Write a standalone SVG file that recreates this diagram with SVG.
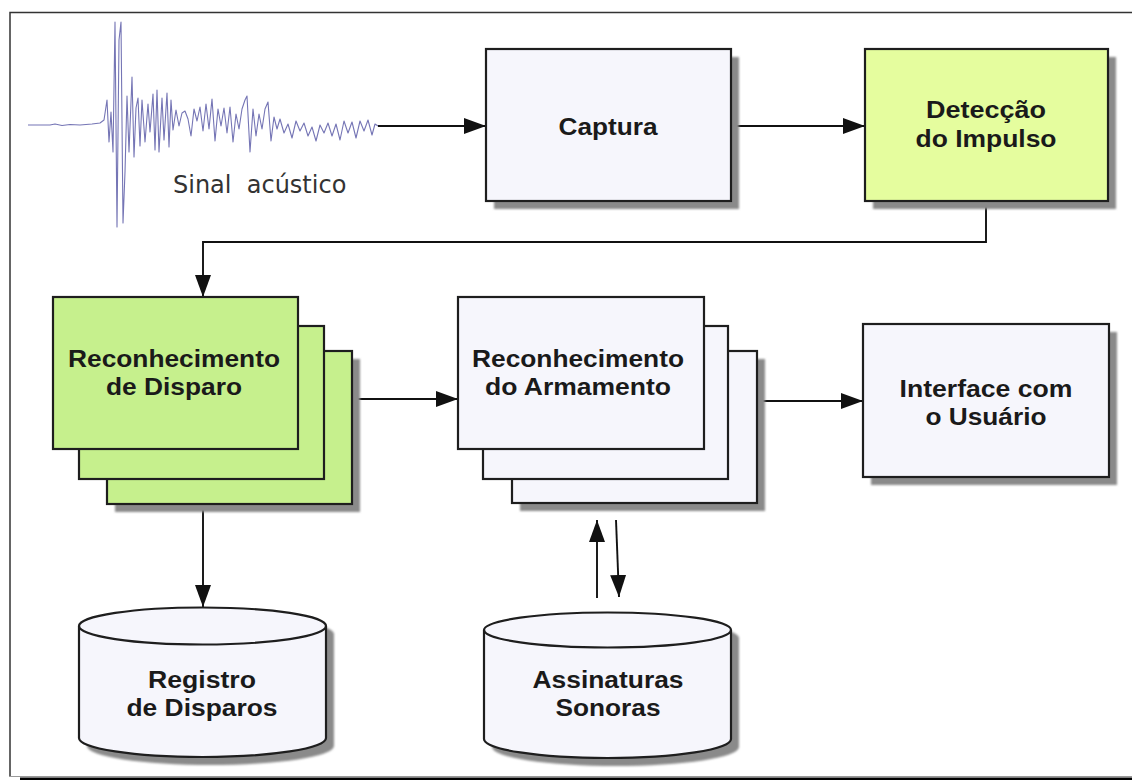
<svg xmlns="http://www.w3.org/2000/svg" width="1132" height="780" viewBox="0 0 1132 780">
<style>
.box{stroke:#1e1e1e;stroke-width:2.2}
.w{fill:#f6f6fc}
.y{fill:#e5fd9e}
.g{fill:#c6f08d}
.sh{fill:#8a8a8a;filter:url(#blur)}
.lbl{font-family:"Liberation Sans",Arial,sans-serif;font-weight:bold;font-size:23.5px;fill:#1a1a1a;text-anchor:middle}
.con{stroke:#111;stroke-width:1.9;fill:none}
</style>
<defs>
<filter id="blur" x="-10%" y="-10%" width="120%" height="120%"><feGaussianBlur stdDeviation="0.8"/></filter>
<marker id="ah" viewBox="0 0 22 16" refX="22" refY="8" markerWidth="22" markerHeight="16" markerUnits="userSpaceOnUse" orient="auto"><path d="M0,0 L22,8 L0,16 Z" fill="#111"/></marker>
</defs>
<rect width="1132" height="780" fill="#fff"/>
<g id="frame">
<path d="M10,777 L10,12.5 L1132,12.5" fill="none" stroke="#333" stroke-width="1.5"/>
<path d="M9,776.5 L1132,776.5" stroke="#999" stroke-width="1"/>
<rect x="20" y="777.5" width="1112" height="2.5" fill="#000"/>
</g>
<g id="signal">
<path d="M28,125 L50,125 L55,124 L62,125.5 L70,124.5 L80,125 L92,124 L100,123 L104,120 L107,100 L109,142 L111,112 L113,152 L115,22 L117,227 L119,40 L121,22 L123,223 L125,172 L127,96 L129,152 L132,77 L134,157 L136,108 L138,98 L140,146 L142,100 L145,142 L148,104 L150,132 L153,94 L155,150 L157,90 L159,152 L162,98 L164,140 L167,93 L169,147 L171,100 L173,130 L176,110 L179,126 L182,113 L185,111 L188,119 L191,136 L194,109 L197,121 L200,107 L203,131 L206,104 L209,129 L212,99 L215,141 L218,109 L221,126 L224,108 L227,133 L230,107 L233,142 L236,114 L239,129 L242,109 L245,100 L247,96 L250,152 L253,109 L256,136 L259,114 L262,129 L265,109 L268,102 L271,141 L274,117 L277,129 L280,119 L284,133 L288,124 L292,138 L296,121 L300,131 L304,123 L308,136 L312,127 L316,141 L320,125 L324,133 L328,123 L332,136 L336,124 L340,140 L344,121 L348,133 L352,122 L356,138 L360,121 L364,131 L368,120 L372,135 L375,124 L378,126" fill="none" stroke="#7575b5" stroke-width="1.1" stroke-linejoin="round"/>
<text x="173" y="193" xml:space="preserve" font-family="DejaVu Sans,Verdana,sans-serif" font-size="24" fill="#333">Sinal  acústico</text>
</g>
<g id="connectors">
<path class="con" d="M378,126 L486,126" marker-end="url(#ah)"/>
<path class="con" d="M731,126 L865,126" marker-end="url(#ah)"/>
<path class="con" d="M986,201 L986,242 L203,242 L203,297" marker-end="url(#ah)"/>
<path class="con" d="M352,399 L458,399" marker-end="url(#ah)"/>
<path class="con" d="M757,401 L863,401" marker-end="url(#ah)"/>
<path class="con" d="M203,505 L203,607" marker-end="url(#ah)"/>
<path class="con" d="M597,598 L597,520" marker-end="url(#ah)"/>
<path class="con" d="M616,520 L619,597" marker-end="url(#ah)"/>
</g>
<g id="captura">
<rect class="sh" x="494" y="57" width="245" height="152"/>
<rect class="box w" x="486" y="49" width="245" height="152"/>
<text class="lbl" x="608" y="135" textLength="99" lengthAdjust="spacingAndGlyphs">Captura</text>
</g>
<g id="deteccao">
<rect class="sh" x="873" y="57" width="243" height="152"/>
<rect class="box y" x="865" y="49" width="243" height="152"/>
<text class="lbl" x="986" y="118" textLength="120" lengthAdjust="spacingAndGlyphs">Detecção</text>
<text class="lbl" x="986" y="147" textLength="141" lengthAdjust="spacingAndGlyphs">do Impulso</text>
</g>
<g id="reconhecimento-disparo">
<rect class="sh" x="115" y="359" width="245" height="153"/>
<rect class="box g" x="107" y="351" width="245" height="153"/>
<rect class="box g" x="79" y="326" width="245" height="153"/>
<rect class="box g" x="53" y="297" width="245" height="152"/>
<text class="lbl" x="174" y="367" textLength="212" lengthAdjust="spacingAndGlyphs">Reconhecimento</text>
<text class="lbl" x="174" y="395" textLength="136" lengthAdjust="spacingAndGlyphs">de Disparo</text>
</g>
<g id="reconhecimento-armamento">
<rect class="sh" x="520" y="359" width="245" height="152"/>
<rect class="box w" x="512" y="351" width="245" height="152"/>
<rect class="box w" x="483" y="326" width="245" height="153"/>
<rect class="box w" x="458" y="297" width="246" height="152"/>
<text class="lbl" x="578" y="367" textLength="212" lengthAdjust="spacingAndGlyphs">Reconhecimento</text>
<text class="lbl" x="578" y="395" textLength="186" lengthAdjust="spacingAndGlyphs">do Armamento</text>
</g>
<g id="interface">
<rect class="sh" x="871" y="332" width="246" height="153"/>
<rect class="box w" x="863" y="324" width="246" height="153"/>
<text class="lbl" x="986" y="397" textLength="173" lengthAdjust="spacingAndGlyphs">Interface com</text>
<text class="lbl" x="986" y="425" textLength="121" lengthAdjust="spacingAndGlyphs">o Usuário</text>
</g>
<g id="registro">
<path class="sh" d="M87,634 A123.5,18.5 0 0 1 334,634 L334,746 A123.5,19 0 0 1 87,746 Z"/>
<path class="box w" d="M79,626 A123.5,18.5 0 0 1 326,626 L326,738 A123.5,19 0 0 1 79,738 Z"/>
<path class="box" d="M79,626 A123.5,18.5 0 0 0 326,626" fill="none"/>
<text class="lbl" x="202" y="688" textLength="108" lengthAdjust="spacingAndGlyphs">Registro</text>
<text class="lbl" x="202" y="716" textLength="151" lengthAdjust="spacingAndGlyphs">de Disparos</text>
</g>
<g id="assinaturas">
<path class="sh" d="M492,638 A123.5,17.5 0 0 1 739,638 L739,747 A123.5,19 0 0 1 492,747 Z"/>
<path class="box w" d="M484,630 A123.5,17.5 0 0 1 731,630 L731,739 A123.5,19 0 0 1 484,739 Z"/>
<path class="box" d="M484,630 A123.5,17.5 0 0 0 731,630" fill="none"/>
<text class="lbl" x="608" y="688" textLength="151" lengthAdjust="spacingAndGlyphs">Assinaturas</text>
<text class="lbl" x="608" y="716" textLength="105" lengthAdjust="spacingAndGlyphs">Sonoras</text>
</g>
</svg>
